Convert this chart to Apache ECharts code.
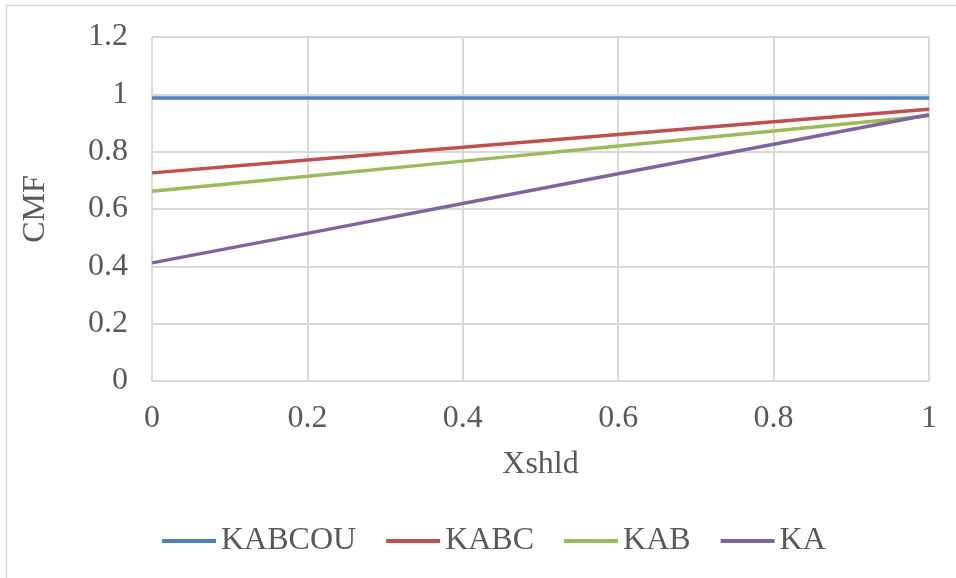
<!DOCTYPE html>
<html>
<head>
<meta charset="utf-8">
<title>CMF vs Xshld</title>
<script src="https://cdn.jsdelivr.net/npm/echarts@6/dist/echarts.min.js"></script>
<style>
  html, body { margin: 0; padding: 0; background: #ffffff; }
  #chart { width: 956px; height: 578px; }
</style>
</head>
<body>
<div id="chart"></div>
<script>
// Shoulder share on the x axis, crash modification factor per model
const xValues = [0, 0.2, 0.4, 0.6, 0.8, 1];
const seriesNames = ['KABCOU', 'KABC', 'KAB', 'KA'];
const kabcou = [0.987, 0.987, 0.987, 0.987, 0.987, 0.987];
const kabc   = [0.726, 0.771, 0.815, 0.860, 0.904, 0.948];
const kab    = [0.662, 0.714, 0.767, 0.820, 0.872, 0.925];
const ka     = [0.412, 0.515, 0.619, 0.723, 0.826, 0.929];
const xTicks = ['0', '0.2', '0.4', '0.6', '0.8', '1'];
const yTicks = ['0', '0.2', '0.4', '0.6', '0.8', '1', '1.2'];

const colors = ['#4f81bd', '#c0504d', '#9bbb59', '#8064a2'];
const values = [kabcou, kabc, kab, ka];
const font = 'Liberation Serif';
const textColor = '#595959';
const gridColor = '#d9d9d9';

const chart = echarts.init(document.getElementById('chart'), null, { renderer: 'canvas' });

chart.setOption({
  animation: false,
  backgroundColor: '#ffffff',
  color: colors,
  textStyle: { fontFamily: font },
  graphic: [{
    type: 'rect',
    shape: { x: 6.5, y: 5.5, width: 980, height: 600 },
    style: { fill: 'none', stroke: gridColor, lineWidth: 1.5 },
    silent: true
  }],
  grid: { left: 152, right: 27, top: 37, bottom: 197 },
  legend: {
    data: seriesNames,
    left: 162,
    top: 525,
    padding: 0,
    itemWidth: 54,
    itemHeight: 4,
    itemGap: 30,
    icon: 'rect',
    textStyle: { fontFamily: font, fontSize: 32, color: textColor }
  },
  xAxis: {
    type: 'value',
    min: 0, max: 1, interval: 0.2,
    name: 'Xshld',
    nameLocation: 'middle',
    nameGap: 68,
    nameTextStyle: { fontFamily: font, fontSize: 32, color: textColor },
    axisLine: { show: true, lineStyle: { color: gridColor, width: 2 } },
    axisTick: { show: false },
    axisLabel: {
      margin: 22, fontFamily: font, fontSize: 32, color: textColor,
      formatter: (v) => xTicks[Math.round(v / 0.2)]
    },
    splitLine: { show: true, lineStyle: { color: gridColor, width: 2 } }
  },
  yAxis: {
    type: 'value',
    min: 0, max: 1.2, interval: 0.2,
    name: 'CMF',
    nameLocation: 'middle',
    nameRotate: 90,
    nameGap: 100,
    nameTextStyle: { fontFamily: font, fontSize: 32, color: textColor },
    axisLine: { show: false },
    axisTick: { show: false },
    axisLabel: {
      margin: 24, fontFamily: font, fontSize: 32, color: textColor,
      formatter: (v) => yTicks[Math.round(v / 0.2)]
    },
    splitLine: { show: true, lineStyle: { color: gridColor, width: 2 } }
  },
  series: seriesNames.map((name, i) => ({
    name: name,
    type: 'line',
    data: xValues.map((x, j) => [x, values[i][j]]),
    showSymbol: false,
    symbol: 'none',
    lineStyle: { width: 3.5, color: colors[i] },
    itemStyle: { color: colors[i] }
  }))
});
</script>
</body>
</html>
